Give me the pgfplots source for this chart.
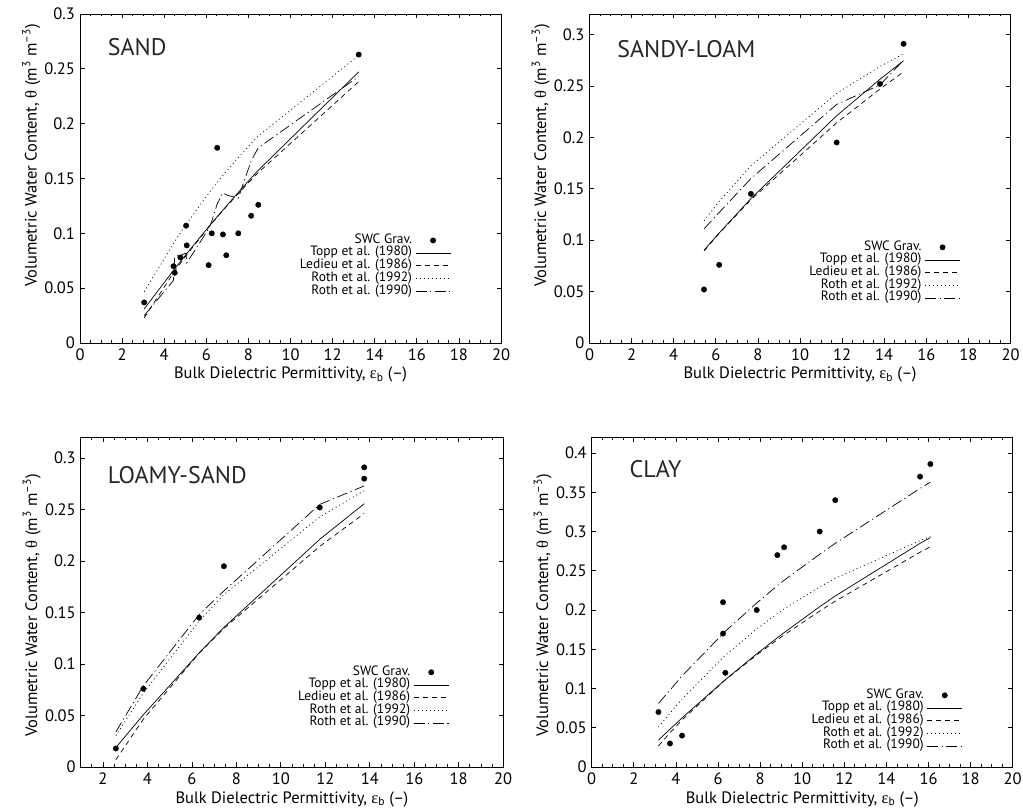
\documentclass[border=0pt]{standalone}
\usepackage{pgfplots}
\pgfplotsset{compat=1.18}
\usepackage{fontspec}
\setmainfont{PT Sans}
\newfontfamily\gr{Liberation Serif}

\tikzset{ttl/.style={anchor=base west, font=\fontsize{24}{28}\selectfont, text=black!85}}
\pgfplotsset{
  soilax/.style={
    scale only axis, width=421pt, height=329pt,
    xmin=0, xmax=20, ymin=0,
    xtick={0,2,...,20}, minor xtick={0,0.5,...,20},
    tick align=inside,
    major tick length=4.5pt, minor tick length=2.5pt,
    axis line style={line width=0.9pt},
    tick style={black, line width=0.7pt},
    tick label style={font=\fontsize{16.5}{19}\selectfont},
    /pgf/number format/assume math mode=true,
    yticklabel style={/pgf/number format/fixed, /pgf/number format/precision=2, xshift=-1.5pt},
    xticklabel style={yshift=-2.5pt},
    scaled y ticks=false,
    xlabel={Bulk Dielectric Permittivity, {\gr ε}\textsubscript{b} (–)},
    ylabel={Volumetric Water Content, {\gr θ} (m\textsuperscript{3} m\textsuperscript{–3})},
    label style={font=\fontsize{16.5}{19}\selectfont},
    xlabel style={at={(axis description cs:0.5,-0.097)}, anchor=center},
    legend plot pos=right, legend cell align=right,
    legend style={draw=none, fill=none, inner sep=0pt, outer sep=0pt,
      font=\fontsize{13.5}{14}\selectfont, row sep=0pt, column sep=2.5pt, anchor=south east,
      nodes={inner sep=0.7pt, text height=8.5pt, text depth=2.8pt}},
    legend image code/.code={\draw[mark repeat=2,mark phase=2,#1] plot coordinates {(0pt,0pt) (17.5pt,0pt) (35pt,0pt)};},
  },
  swc/.style={only marks, mark=*, mark size=2.7pt, black},
  topp/.style={black, line width=0.7pt, no marks},
  led/.style={black, line width=0.7pt, no marks, dash pattern=on 5pt off 4pt},
  r92/.style={black, line width=0.7pt, no marks, dash pattern=on 1pt off 3pt},
  r90/.style={black, line width=0.7pt, no marks, dash pattern=on 11pt off 3.5pt on 1.2pt off 3.5pt},
}

\begin{document}
\begin{tikzpicture}
\useasboundingbox (0pt,0pt) rectangle (1023pt,811pt);

% ---------------- SAND ----------------
\begin{axis}[soilax, at={(80pt,468pt)}, anchor=south west,
  ymax=0.3, ytick={0,0.05,0.1,0.15,0.2,0.25,0.3},
  ylabel style={at={(axis description cs:-0.116,0.57)}, anchor=center},
  legend style={at={(axis description cs:0.881,0.138)}}]
\addplot[swc] coordinates {(3.05,0.037) (4.44,0.070) (4.50,0.064) (4.77,0.078) (5.04,0.107) (5.07,0.089) (6.11,0.071) (6.26,0.100) (6.52,0.178) (6.79,0.099) (6.95,0.080) (7.52,0.100) (8.13,0.116) (8.47,0.126) (13.24,0.263)};
\addplot[topp] coordinates {(3.05,0.0311) (4.44,0.0662) (4.50,0.0677) (4.77,0.0742) (5.04,0.0808) (5.07,0.0815) (6.11,0.1059) (6.26,0.1093) (6.52,0.1152) (6.79,0.1213) (6.95,0.1248) (7.52,0.1373) (8.13,0.1504) (8.47,0.1575) (13.24,0.2472)};
\addplot[led] coordinates {(3.05,0.0229) (4.44,0.0640) (4.50,0.0656) (4.77,0.0727) (5.04,0.0797) (5.07,0.0804) (6.11,0.1055) (6.26,0.1089) (6.52,0.1148) (6.79,0.1207) (6.95,0.1242) (7.52,0.1363) (8.13,0.1487) (8.47,0.1554) (13.24,0.2383)};
\addplot[r92] coordinates {(3.05,0.0467) (4.44,0.0908) (4.50,0.0926) (4.77,0.1005) (5.04,0.1081) (5.07,0.1089) (6.11,0.1364) (6.26,0.1401) (6.52,0.1464) (6.79,0.1528) (6.95,0.1565) (7.52,0.1692) (8.13,0.1819) (8.47,0.1887) (13.24,0.2623)};
\addplot[r90] coordinates {(3.05,0.025) (4.44,0.057) (4.50,0.079) (4.77,0.080) (5.04,0.082) (5.07,0.073) (6.11,0.104) (6.26,0.111) (6.52,0.127) (6.79,0.137) (6.95,0.135) (7.52,0.132) (8.13,0.166) (8.47,0.178) (13.24,0.243)};
\legend{SWC Grav., Topp et al. (1980), Ledieu et al. (1986), Roth et al. (1992), Roth et al. (1990)}
\node[ttl] at (axis description cs:0.058,0.875) {SAND};
\end{axis}

% ---------------- SANDY-LOAM ----------------
\begin{axis}[soilax, at={(589.5pt,468pt)}, anchor=south west,
  ymax=0.32, ytick={0,0.05,0.1,0.15,0.2,0.25,0.3},
  ylabel style={at={(axis description cs:-0.116,0.57)}, anchor=center},
  legend style={at={(axis description cs:0.881,0.117)}}]
\addplot[swc] coordinates {(5.44,0.052) (6.16,0.076) (7.67,0.145) (11.74,0.195) (13.80,0.252) (14.92,0.291)};
\addplot[topp] coordinates {(5.44,0.0903) (6.16,0.1070) (7.67,0.1405) (11.74,0.2210) (13.80,0.2565) (14.92,0.2745)};
\addplot[led] coordinates {(5.44,0.0896) (6.16,0.1066) (7.67,0.1394) (11.74,0.2141) (13.80,0.2470) (14.92,0.2638)};
\addplot[r92] coordinates {(5.44,0.1190) (6.16,0.1376) (7.67,0.1724) (11.74,0.2428) (13.80,0.2690) (14.92,0.2814)};
\addplot[r90] coordinates {(5.44,0.111) (6.16,0.127) (7.67,0.160) (11.74,0.232) (13.80,0.251) (14.92,0.275)};
\legend{SWC Grav., Topp et al. (1980), Ledieu et al. (1986), Roth et al. (1992), Roth et al. (1990)}
\node[ttl] at (axis description cs:0.058,0.868) {SANDY-LOAM};
\end{axis}

% ---------------- LOAMY-SAND ----------------
\begin{axis}[soilax, at={(80.7pt,44pt)}, anchor=south west, width=422.5pt, height=329.5pt,
  xmin=1, xtick={2,4,...,20}, minor xtick={1,1.5,...,20},
  ymax=0.32, ytick={0,0.05,0.1,0.15,0.2,0.25,0.3},
  ylabel style={at={(axis description cs:-0.116,0.49)}, anchor=center},
  legend style={at={(axis description cs:0.872,0.114)}}]
\addplot[swc] coordinates {(2.58,0.018) (3.82,0.076) (6.33,0.145) (7.44,0.195) (11.75,0.252) (13.75,0.280) (13.75,0.291)};
\addplot[topp] coordinates {(2.58,0.0188) (3.82,0.0508) (6.33,0.1109) (7.44,0.1356) (11.75,0.2211) (13.75,0.2557)};
\addplot[led] coordinates {(2.58,0.0070) (3.82,0.0466) (6.33,0.1105) (7.44,0.1346) (11.75,0.2143) (13.75,0.2462)};
\addplot[r92] coordinates {(2.58,0.0304) (3.82,0.0719) (6.33,0.1418) (7.44,0.1674) (11.75,0.2429) (13.75,0.2684)};
\addplot[r90] coordinates {(2.58,0.034) (3.82,0.079) (6.33,0.148) (7.44,0.171) (11.75,0.255) (13.75,0.273)};
\legend{SWC Grav., Topp et al. (1980), Ledieu et al. (1986), Roth et al. (1992), Roth et al. (1990)}
\node[ttl] at (axis description cs:0.056,0.859) {LOAMY-SAND};
\end{axis}

% ---------------- CLAY ----------------
\begin{axis}[soilax, at={(591.7pt,44pt)}, anchor=south west, height=329.6pt,
  ymax=0.42, ytick={0,0.05,0.1,0.15,0.2,0.25,0.3,0.35,0.4},
  ylabel style={at={(axis description cs:-0.116,0.49)}, anchor=center},
  legend style={at={(axis description cs:0.881,0.044)}}]
\addplot[swc] coordinates {(3.17,0.070) (3.72,0.030) (4.29,0.040) (6.24,0.210) (6.24,0.170) (6.35,0.120) (7.84,0.200) (8.82,0.270) (9.14,0.280) (10.83,0.300) (11.57,0.340) (15.60,0.370) (16.09,0.386)};
\addplot[topp] coordinates {(3.17,0.0342) (3.72,0.0482) (4.29,0.0625) (6.24,0.1088) (6.35,0.1113) (7.84,0.1442) (8.82,0.1647) (9.14,0.1712) (10.83,0.2042) (11.57,0.2179) (15.60,0.2850) (16.09,0.2924)};
\addplot[led] coordinates {(3.17,0.0268) (3.72,0.0437) (4.29,0.0599) (6.24,0.1085) (6.35,0.1110) (7.84,0.1428) (8.82,0.1622) (9.14,0.1682) (10.83,0.1987) (11.57,0.2113) (15.60,0.2737) (16.09,0.2807)};
\addplot[r92] coordinates {(3.17,0.0508) (3.72,0.0687) (4.29,0.0864) (6.24,0.1396) (6.35,0.1423) (7.84,0.1760) (8.82,0.1954) (9.14,0.2014) (10.83,0.2295) (11.57,0.2404) (15.60,0.2886) (16.09,0.2936)};
\addplot[r90] coordinates {(3.17,0.081) (3.72,0.098) (4.29,0.116) (6.24,0.170) (6.35,0.173) (7.84,0.209) (8.82,0.231) (9.14,0.238) (10.83,0.271) (11.57,0.285) (15.60,0.355) (16.09,0.363)};
\legend{SWC Grav., Topp et al. (1980), Ledieu et al. (1986), Roth et al. (1992), Roth et al. (1990)}
\node[ttl] at (axis description cs:0.0815,0.877) {CLAY};
\end{axis}
\end{tikzpicture}
\end{document}
